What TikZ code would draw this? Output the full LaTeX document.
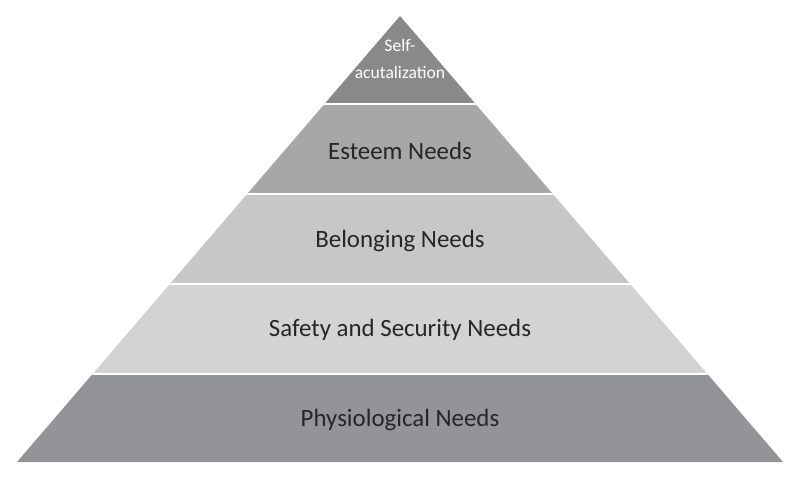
\documentclass[tikz,border=0pt]{standalone}
\usepackage{fontspec}
\setmainfont{Carlito}
\usepackage{xcolor}
\usetikzlibrary{positioning}
\definecolor{tiertop}{RGB}{137,137,140}
\definecolor{tieresteem}{RGB}{167,167,169}
\definecolor{tierbelong}{RGB}{198,199,201}
\definecolor{tiersafety}{RGB}{212,211,212}
\definecolor{tierphys}{RGB}{147,148,152}
\definecolor{labeldark}{RGB}{38,38,38}
\tikzset{
  tierlabel/.style={font=\fontsize{17.7}{21}\selectfont, text=labeldark, inner sep=0pt},
  toplabel/.style={font=\fontsize{12.5}{19}\selectfont, text=white, align=center, inner sep=0pt},
  gapline/.style={draw=white, line width=1.8pt}
}
\begin{document}
\begin{tikzpicture}[x=0.025cm, y=-0.025cm]
  \useasboundingbox (0,0) rectangle (800,478);
  \coordinate (apex) at (400,16);
  \coordinate (baseL) at (17,462);
  \coordinate (baseR) at (783,462);

  % Tiers
  \begin{scope}
    \clip (apex) -- (baseL) -- (baseR) -- cycle;
    \foreach \ytop/\ybot/\col in {0/104/tiertop, 104/194/tieresteem,
        194/284/tierbelong, 284/374/tiersafety, 374/470/tierphys}
      \fill[\col] (0,\ytop) rectangle (800,\ybot);
    \foreach \y in {104,194,284,374}
      \draw[gapline] (0,\y) -- (800,\y);
  \end{scope}

  % Labels
  \node[toplabel] (self) at (400,59) {Self-\\acutalization};
  \node[tierlabel] (esteem) at (400,151) {Esteem Needs};
  \node[tierlabel] (belong) at (400,241) {Belonging Needs};
  \node[tierlabel] (safety) at (400,330) {Safety and Security Needs};
  \node[tierlabel] (phys) at (400,420) {Physiological Needs};
\end{tikzpicture}
\end{document}
